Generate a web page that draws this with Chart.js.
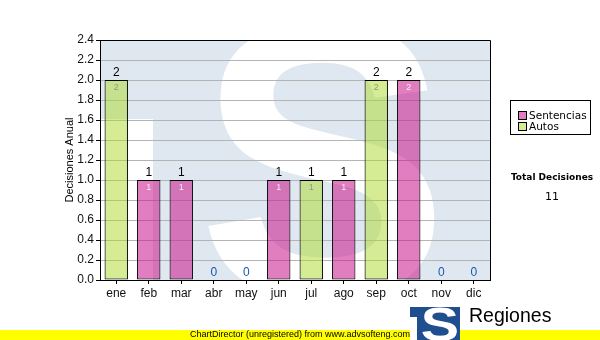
<!DOCTYPE html>
<html>
<head>
<meta charset="utf-8">
<script src="https://cdn.jsdelivr.net/npm/chart.js@4.4.1/dist/chart.umd.min.js"></script>
<style>
  html, body { margin: 0; padding: 0; background: #fff; }
  #wrap { position: relative; width: 600px; height: 340px; overflow: hidden; background: #fff; }
  #c { position: absolute; left: 0; top: 0; }
  .abs { position: absolute; white-space: nowrap; }
  #legend { left: 510px; top: 100px; width: 81px; height: 35px; border: 1px solid #000; box-sizing: border-box;
            font-family: "DejaVu Sans", sans-serif; font-size: 10.5px; color: #000; }
  .li { position: absolute; left: 7px; height: 11px; line-height: 11px; }
  .sw { display: inline-block; width: 9px; height: 9px; border: 1px solid #000; box-sizing: border-box; vertical-align: -1px; margin-right: 2px; }
  #total { left: 500px; width: 104px; top: 172px; text-align: center; font-family: "DejaVu Sans", sans-serif; font-weight: bold; font-size: 9px; }
  #totalv { left: 500px; width: 104px; top: 190px; text-align: center; font-family: "DejaVu Sans", sans-serif; font-size: 11px; }
  #band { left: 0; top: 330px; width: 600px; height: 10px; background: #ffff00; }
  #bandtxt { left: 0; width: 600px; top: 329px; text-align: center; font-family: "Liberation Sans", Arial, sans-serif; font-size: 9px; line-height: 11px; color: #000; }
  #reg { left: 469px; top: 304px; font-family: "Liberation Sans", Arial, sans-serif; font-size: 19.5px; line-height: 22px; color: #000; }
  #logo { left: 0; top: 0; }
</style>
</head>
<body>
<div id="wrap">
  <canvas id="c" width="600" height="340"></canvas>
  <div id="legend" class="abs"></div>
  <div id="total" class="abs">Total Decisiones</div>
  <div id="totalv" class="abs"></div>
  <div id="band" class="abs"></div>
  <div id="bandtxt" class="abs">ChartDirector (unregistered) from www.advsofteng.com</div>
  <canvas id="logo" class="abs" width="600" height="340"></canvas>
  <div id="reg" class="abs">Regiones</div>
</div>
<script>
// ---- data ----
const months = ["ene","feb","mar","abr","may","jun","jul","ago","sep","oct","nov","dic"];
const sentencias = [0,1,1,0,0,1,0,1,0,2,0,0];
const autos      = [2,0,0,0,0,0,1,0,2,0,0,0];
const seriesNames = ["Sentencias","Autos"];
const yTicksMin = 0, yTicksMax = 2.4, yStep = 0.2;
const yTitle = "Decisiones Anual";

const pinkFill = "rgba(200,20,140,0.55)";
const greenFill = "rgba(173,217,41,0.5)";
const pinkSolid = "#e07ec0";
const greenSolid = "#d6ec94";

// legend + total
const legend = document.getElementById('legend');
[[seriesNames[0], pinkSolid, 9],[seriesNames[1], greenSolid, 20]].forEach(([n,c,t])=>{
  const d = document.createElement('div'); d.className='li'; d.style.top=t+'px';
  d.innerHTML = '<span class="sw" style="background:'+c+'"></span>'+n;
  legend.appendChild(d);
});
const totalAll = sentencias.reduce((a,b)=>a+b,0) + autos.reduce((a,b)=>a+b,0);
document.getElementById('totalv').textContent = String(totalAll);

// small logo
(function(){
  const cv = document.getElementById('logo'); const g = cv.getContext('2d');
  g.fillStyle = '#1f4f8f';
  g.fillRect(410, 307, 50, 33);
  g.fillStyle = '#fff';
  g.fillRect(410, 317, 7, 23);
  drawS(g, 422, 307, 35, 34);
})();

function drawS(g, x, y, w, h){
  g.save();
  g.font = 'bold 100px "Liberation Sans"';
  g.textBaseline = 'alphabetic';
  const m = g.measureText('S');
  const bw = m.actualBoundingBoxLeft + m.actualBoundingBoxRight;
  const bh = m.actualBoundingBoxAscent + m.actualBoundingBoxDescent;
  g.translate(x, y);
  g.scale(w/bw, h/bh);
  g.fillStyle = '#fff';
  g.fillText('S', m.actualBoundingBoxLeft, m.actualBoundingBoxAscent);
  g.restore();
}

const watermark = {
  id: 'watermark',
  beforeDraw(chart){
    const {ctx, chartArea:a} = chart;
    ctx.save();
    ctx.beginPath(); ctx.rect(a.left, a.top, a.right-a.left, a.bottom-a.top); ctx.clip();
    ctx.fillStyle = '#dfe8f0';
    ctx.fillRect(a.left, a.top, a.right-a.left, a.bottom-a.top);
    ctx.fillStyle = '#fff';
    ctx.fillRect(a.left, 119, 53, a.bottom-119);
    drawS(ctx, 205, 22, 230, 278);
    ctx.restore();
  }
};

const frame = {
  id: 'frame',
  afterDatasetsDraw(chart){
    const {ctx, chartArea:a} = chart;
    ctx.save();
    ctx.strokeStyle = '#000'; ctx.lineWidth = 1;
    ctx.beginPath();
    ctx.moveTo(a.left, a.top+0.5); ctx.lineTo(a.right+0.5, a.top+0.5);
    ctx.lineTo(a.right+0.5, a.bottom);
    ctx.stroke();
    // labels
    const xs = chart.scales.x, ys = chart.scales.y;
    ctx.textAlign = 'center';
    for (let i=0;i<months.length;i++){
      const tot = sentencias[i] + autos[i];
      const x = xs.getPixelForValue(i);
      const y = ys.getPixelForValue(tot);
      ctx.font = '12px "Liberation Sans"';
      ctx.textBaseline = 'bottom';
      ctx.fillStyle = tot === 0 ? '#1f55b0' : '#000';
      ctx.fillText(String(tot), x, y - 1);
      if (tot > 0){
        ctx.font = '9px "Liberation Sans"';
        ctx.textBaseline = 'top';
        ctx.fillStyle = sentencias[i] > 0 ? '#fbe8f6' : '#8f9a80';
        ctx.fillText(String(tot), x, y + 3);
      }
    }
    ctx.restore();
  }
};

new Chart(document.getElementById('c'), {
  type: 'bar',
  data: {
    labels: months,
    datasets: [
      { label: seriesNames[0], data: sentencias.map(v => v === 0 ? null : v), backgroundColor: pinkFill, borderColor: '#000', borderWidth: 1, borderSkipped: false },
      { label: seriesNames[1], data: autos.map(v => v === 0 ? null : v), backgroundColor: greenFill, borderColor: '#000', borderWidth: 1, borderSkipped: false }
    ]
  },
  options: {
    responsive: false,
    animation: false,
    devicePixelRatio: 1,
    layout: { padding: { left: 59, right: 110, top: 40, bottom: 0 } },
    datasets: { bar: { categoryPercentage: 1, barPercentage: 0.72 } },
    plugins: { legend: { display: false }, tooltip: { enabled: false } },
    scales: {
      x: {
        stacked: true,
        afterFit(s){ s.height = 60; },
        grid: { drawOnChartArea: false, offset: false, tickColor: '#000', tickLength: 4 },
        border: { color: '#000', width: 1 },
        ticks: { color: '#111', font: { family: '"Liberation Sans"', size: 12 }, padding: 2, maxRotation: 0, autoSkip: false }
      },
      y: {
        stacked: true,
        min: yTicksMin, max: yTicksMax,
        afterFit(s){ s.width = 41; },
        grid: { color: '#b4b4b4', tickColor: '#000', tickLength: 4 },
        border: { color: '#000', width: 1 },
        ticks: { stepSize: yStep, color: '#111', font: { family: '"Liberation Sans"', size: 12 }, padding: 2,
                 callback: v => Number(v).toFixed(1) },
        title: { display: true, text: yTitle, color: '#000', font: { family: '"Liberation Sans"', size: 11 }, padding: { top: 4, bottom: 4 } }
      }
    }
  },
  plugins: [watermark, frame]
});
</script>
</body>
</html>
